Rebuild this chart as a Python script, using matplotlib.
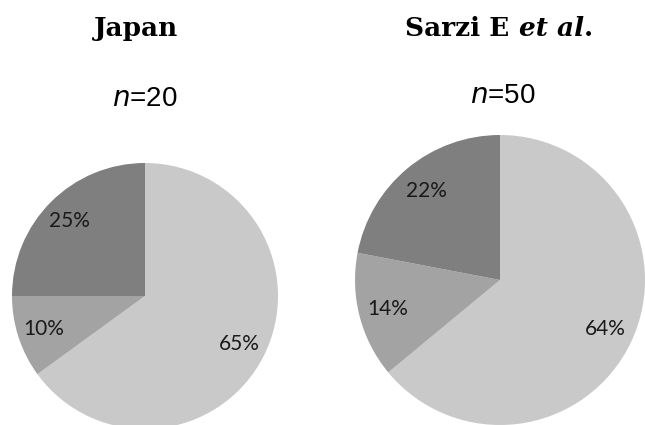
import matplotlib
matplotlib.use('Agg')
from matplotlib import pyplot as plt

# data
japan_vals = [65, 10, 25]
sarzi_vals = [64, 14, 22]
japan_n = 20
sarzi_n = 50
colors = ['#c9c9c9', '#a3a3a3', '#7f7f7f']

W, H = 645, 425
fig = plt.figure(figsize=(W / 100, H / 100), dpi=100)
fig.patch.set_facecolor('white')


def pie_axes(cx, cy, r):
    # pixel centre (from top-left) and radius -> axes rect
    return fig.add_axes([(cx - r) / W, (H - cy - r) / H, 2 * r / W, 2 * r / H])


def draw_pie(ax, vals):
    ax.pie(
        vals,
        colors=colors,
        startangle=90,
        counterclock=False,
        autopct='%.0f%%',
        pctdistance=0.8,
        wedgeprops=dict(linewidth=0),
        textprops=dict(fontsize=15, family='Lato', color='#1a1a1a'),
    )
    ax.set_xlim(-1, 1)
    ax.set_ylim(-1, 1)
    ax.set_aspect('auto')
    ax.axis('off')


ax1 = pie_axes(145, 296, 133)
draw_pie(ax1, japan_vals)
ax2 = pie_axes(500, 280, 145)
draw_pie(ax2, sarzi_vals)

title_kw = dict(va='baseline', fontsize=19, fontweight='bold', family='DejaVu Serif')

# titles
fig.text(136 / W, 1 - 36 / H, 'Japan', ha='center', **title_kw)

# "Sarzi E " upright + "et al." italic, centred together on x=499
r = fig.canvas.get_renderer()
t1 = fig.text(0, 1 - 36 / H, 'Sarzi E ', ha='left', **title_kw)
t2 = fig.text(0, 1 - 36 / H, 'et al', ha='left', style='italic', **title_kw)
t3 = fig.text(0, 1 - 36 / H, '.', ha='left', **title_kw)
w1 = t1.get_window_extent(r).width
w2 = t2.get_window_extent(r).width
w3 = t3.get_window_extent(r).width
x0 = 499 - (w1 + w2 + w3) / 2
t1.set_x(x0 / W)
t2.set_x((x0 + w1) / W)
t3.set_x((x0 + w1 + w2) / W)

fig.text(145 / W, 1 - 106 / H, r'$\it{n}$=%d' % japan_n, ha='center', va='baseline',
         fontsize=20, family='Liberation Sans')
fig.text(503 / W, 1 - 103 / H, r'$\it{n}$=%d' % sarzi_n, ha='center', va='baseline',
         fontsize=20, family='Liberation Sans')

fig.savefig('out.png', dpi=100)
